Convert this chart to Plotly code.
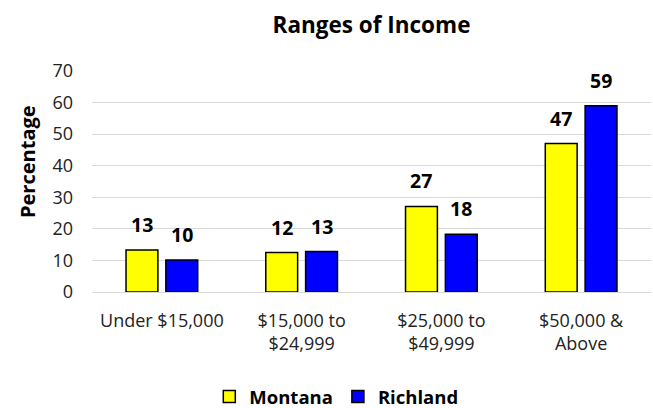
import plotly.graph_objects as go

categories = ["Under $15,000", "$15,000 to<br>$24,999", "$25,000 to<br>$49,999", "$50,000 &<br>Above"]
montana = [13.3, 12.5, 27.1, 47.0]
richland = [10.1, 12.8, 18.3, 59.0]
y_ticks = [0, 10, 20, 30, 40, 50, 60, 70]

FONT = "Open Sans, sans-serif"

fig = go.Figure()
fig.add_trace(go.Bar(
    name="Montana", x=categories, y=montana,
    marker=dict(color="#FFFF00", line=dict(color="black", width=1.5)),
))
fig.add_trace(go.Bar(
    name="Richland", x=categories, y=richland,
    marker=dict(color="#0000FF", line=dict(color="black", width=1.5)),
))

# value labels above bars (offset to each bar of the group)
for series, shift in ((montana, -20), (richland, 20)):
    for cat, v in zip(categories, series):
        fig.add_annotation(
            x=cat, y=v, xref="x", yref="y", text=f"<b>{round(v)}</b>",
            showarrow=False, xanchor="center", yanchor="bottom",
            xshift=shift, yshift=10,
            font=dict(family=FONT, size=19.5, color="black"),
        )

# y-axis title
fig.add_annotation(
    x=0, y=(292 - 162) / 221, xref="paper", yref="paper", xshift=-65,
    text="<b>Percentage</b>", textangle=-90, showarrow=False,
    xanchor="center", yanchor="middle",
    font=dict(family=FONT, size=20, color="black"),
)

fig.update_layout(
    width=653, height=408,
    paper_bgcolor="white", plot_bgcolor="white",
    margin=dict(l=92, r=2, t=71, b=116, autoexpand=False),
    barmode="group", bargap=0.43, bargroupgap=0.2,
    title=dict(text="<b>Ranges of Income</b>", x=0.5, xanchor="center", xref="paper",
               y=1 - 25 / 408, yanchor="middle", yref="container",
               font=dict(family=FONT, size=22.5, color="black")),
    font=dict(family=FONT, size=18, color="#222"),
    showlegend=True,
    legend=dict(orientation="h", x=0.515, xanchor="center", y=1 - 397 / 408, yanchor="middle",
                yref="container", xref="container",
                font=dict(family=FONT, size=18.5, color="black", weight="bold"),
                traceorder="normal", itemwidth=30),
)
fig.update_yaxes(
    range=[0, 70], tickvals=y_ticks, showgrid=True, gridcolor="#d9d9d9", gridwidth=1.2,
    zeroline=False, showline=False, ticks="", ticklabelstandoff=18, automargin=False,
    tickfont=dict(family=FONT, size=18, color="#222"),
)
fig.update_xaxes(
    showline=True, linecolor="#d9d9d9", linewidth=1.2, ticks="", showgrid=False, automargin=False,
    tickfont=dict(family=FONT, size=18, color="#222"), ticklabelstandoff=12,
)

fig.write_html("out.html", config={"displayModeBar": False},
               post_script="document.body.style.margin='0';document.body.style.overflow='hidden';")
